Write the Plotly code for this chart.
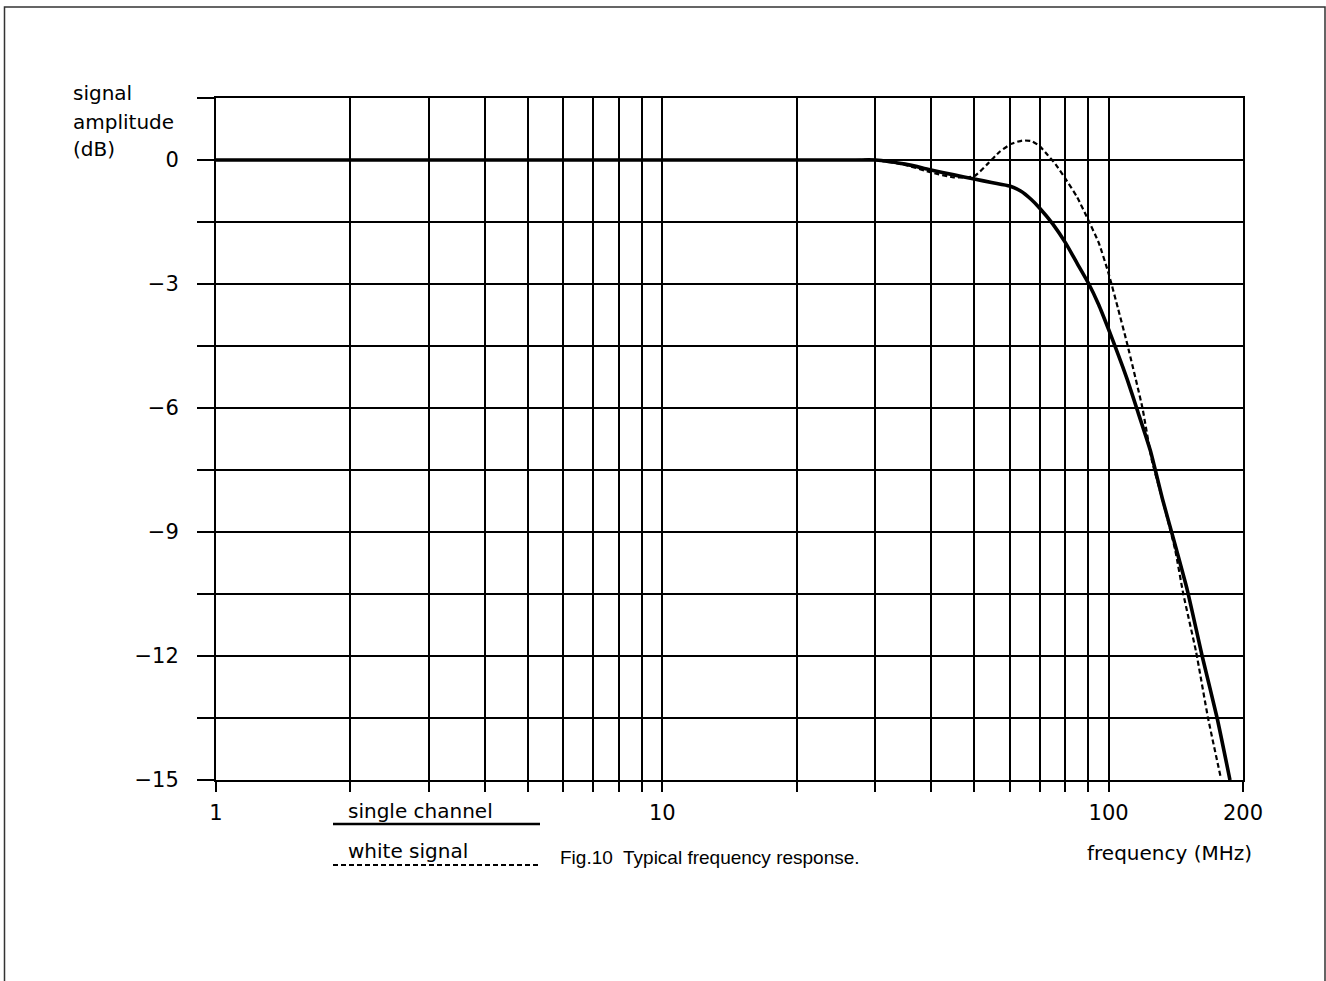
import plotly.graph_objects as go
import math

# ---- data ----
single_f = [1, 10, 20, 27, 30, 35, 40, 45, 50, 55, 60, 63.5, 67, 70, 75, 80, 85, 90, 95, 100,
            105, 110, 116, 124, 132, 140, 150, 162, 175, 187]
single_db = [0, 0, 0, 0, 0, -0.1, -0.24, -0.36, -0.46, -0.55, -0.63, -0.75, -0.95, -1.16, -1.55,
             -2.0, -2.5, -2.97, -3.5, -4.1, -4.7, -5.3, -6.06, -7.03, -8.2, -9.2, -10.4, -12.0,
             -13.5, -15.0]

white_f = [1, 10, 20, 27, 30, 35, 40, 45, 50, 53.5, 57, 60.5, 64, 67, 70, 73, 76, 80, 85, 90, 95,
           100, 105, 110, 119, 125, 133, 141, 147, 157, 167, 178]
white_db = [0, 0, 0, 0, 0, -0.12, -0.3, -0.42, -0.39, -0.1, 0.2, 0.39, 0.47, 0.46, 0.34, 0.12,
            -0.1, -0.45, -0.9, -1.45, -2.0, -2.75, -3.6, -4.44, -5.99, -7.27, -8.35, -9.44,
            -10.5, -11.9, -13.5, -14.9]

x_grid = [1, 2, 3, 4, 5, 6, 7, 8, 9, 10, 20, 30, 40, 50, 60, 70, 80, 90, 100, 200]
x_labels = {1: "1", 10: "10", 100: "100", 200: "200"}
y_grid = [-15, -13.5, -12, -10.5, -9, -7.5, -6, -4.5, -3, -1.5, 0, 1.5]
y_labels = {-15: "\u221215", -12: "\u221212", -9: "\u22129", -6: "\u22126", -3: "\u22123", 0: "0"}

FONT = "DejaVu Sans"
FS = 20

fig = go.Figure()
fig.add_trace(go.Scatter(x=single_f, y=single_db, mode="lines",
                         line=dict(color="black", width=3.6, shape="spline", smoothing=0.5),
                         showlegend=False))
fig.add_trace(go.Scatter(x=white_f, y=white_db, mode="lines",
                         line=dict(color="black", width=2.2, dash="5px,3px", shape="spline", smoothing=0.5),
                         showlegend=False))

W, H = 1326, 981
L, R, T, B = 216, 1243, 98, 780
pw, ph = R - L, B - T


def px(x):
    return (x - L) / pw


def py(y):
    return (B - y) / ph


fig.update_layout(
    width=W, height=H,
    margin=dict(l=L, r=W - R, t=T, b=H - B),
    paper_bgcolor="white", plot_bgcolor="white",
    font=dict(family=FONT, size=FS, color="black"),
    xaxis=dict(type="log", range=[0, math.log10(200)],
               tickvals=x_grid, ticktext=[x_labels.get(v, "") for v in x_grid],
               showgrid=True, gridcolor="black", gridwidth=1.8,
               showline=True, mirror=True, linecolor="black", linewidth=2,
               ticks="outside", ticklen=10, tickwidth=1.8, tickcolor="black",
               ticklabelstandoff=3,
               tickfont=dict(family=FONT, size=21), zeroline=False),
    yaxis=dict(range=[-15, 1.5], tickvals=y_grid,
               ticktext=[y_labels.get(v, "") for v in y_grid],
               showgrid=True, gridcolor="black", gridwidth=1.8,
               showline=True, mirror=True, linecolor="black", linewidth=2,
               ticks="outside", ticklen=17, tickwidth=1.8, tickcolor="black",
               ticklabelstandoff=14,
               tickfont=dict(family=FONT, size=21), zeroline=False),
)

shapes = [
    dict(type="rect", xref="paper", yref="paper", x0=px(4.5), x1=px(1325), y0=py(995), y1=py(7),
         line=dict(color="#333", width=1.5)),
    dict(type="line", xref="paper", yref="paper", x0=px(333), x1=px(540), y0=py(824), y1=py(824),
         line=dict(color="black", width=2.5)),
    dict(type="line", xref="paper", yref="paper", x0=px(333), x1=px(540), y0=py(865), y1=py(865),
         line=dict(color="black", width=1.8, dash="5px,3px")),
]
fig.update_layout(shapes=shapes)

ann = []
for txt, yc in [("signal", 93), ("amplitude", 122), ("(dB)", 149)]:
    ann.append(dict(text=txt, xref="paper", yref="paper", x=px(71), y=py(yc), xanchor="left",
                    yanchor="middle", showarrow=False, font=dict(family=FONT, size=FS)))
ann.append(dict(text="single channel", xref="paper", yref="paper", x=px(346), y=py(811),
                xanchor="left", yanchor="middle", showarrow=False, font=dict(family=FONT, size=FS)))
ann.append(dict(text="white signal", xref="paper", yref="paper", x=px(346), y=py(851),
                xanchor="left", yanchor="middle", showarrow=False, font=dict(family=FONT, size=FS)))
ann.append(dict(text="frequency (MHz)", xref="paper", yref="paper", x=px(1254), y=py(853),
                xanchor="right", yanchor="middle", showarrow=False, font=dict(family=FONT, size=FS)))
ann.append(dict(text="Fig.10  Typical frequency response.", xref="paper", yref="paper",
                x=px(710), y=py(858), xanchor="center", yanchor="middle", showarrow=False,
                font=dict(family="Liberation Sans, Arial", size=19)))
fig.update_layout(annotations=ann)

fig.write_html("out.html")
